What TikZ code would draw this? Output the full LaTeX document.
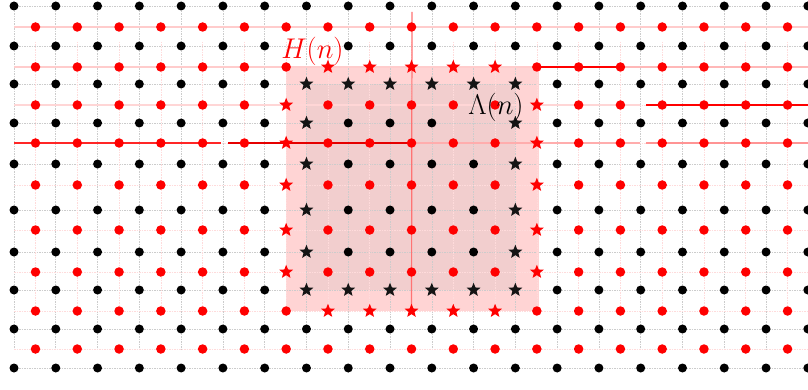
\RequirePackage{fix-cm}
\documentclass[tikz,border=0pt]{standalone}
\usetikzlibrary{shapes.geometric}
\definecolor{innerpink}{RGB}{242,206,206}
\definecolor{outerpink}{RGB}{255,212,212}
\begin{document}
\begin{tikzpicture}[x=1pt,y=-1pt,
  bdot/.style={circle,fill=black,inner sep=0pt,minimum size=9pt},
  rdot/.style={circle,fill=red,inner sep=0pt,minimum size=9.5pt},
  bstar/.style={star,star points=5,star point ratio=2.3,fill=black!92,inner sep=0pt,minimum size=14.5pt},
  rstar/.style={star,star points=5,star point ratio=2.3,fill=red,inner sep=0pt,minimum size=14.5pt},
  ggrid/.style={gray!40,line width=0.6pt,dash pattern=on 1.5pt off 1pt},
  pgrid/.style={red!14,line width=0.6pt,dash pattern=on 1.5pt off 1pt},
  sline/.style={line width=1.2pt},
  lab/.style={inner sep=0pt,font=\fontsize{28.5}{32}\selectfont}]
\useasboundingbox (0,0) rectangle (808,390);
\fill[white] (0,0) rectangle (808,390);

% lattice coordinates
\foreach \y [count=\jj from 0] in {6,46,84,123,164,210,252,290,329,368}{
  \foreach \i in {0,...,19}{
    \pgfmathsetmacro\xx{14+41.78*\i}
    \coordinate (b-\i-\jj) at (\xx,\y);
  }
}
\foreach \y [count=\jj from 0] in {27,67,105,143,185,230,272,311,349}{
  \foreach \i in {0,...,18}{
    \pgfmathsetmacro\xx{35.5+41.78*\i}
    \coordinate (r-\i-\jj) at (\xx,\y);
  }
}

% shaded regions H(n) and Lambda(n)
\fill[outerpink] (r-6-1) rectangle ([xshift=2pt]r-12-7);
\fill[innerpink] (b-7-2) rectangle (b-12-7);

% grid lines
\foreach \jj in {0,...,9}{\draw[ggrid] (b-0-\jj) -- (b-19-\jj);}
\foreach \i in {0,...,19}{\draw[ggrid] (b-\i-0) -- ([yshift=17pt]b-\i-9);}
\foreach \jj in {0,...,8}{\draw[pgrid] ([xshift=-21.5pt]r-0-\jj) -- ([xshift=21pt]r-18-\jj);}
\foreach \i in {0,...,18}{\draw[pgrid] ([yshift=-15pt]r-\i-0) -- ([yshift=37pt]r-\i-8);}

% free ends of the solid lines
\coordinate (a0) at (14,27);   \coordinate (a1) at (808,27);
\coordinate (c0) at (14,67);   \coordinate (c1) at (808,67);
\coordinate (d0) at (14,105);  \coordinate (d1) at (640,105);
\coordinate (d2) at (646,105); \coordinate (d3) at (808,105);
\coordinate (e0) at (14,143);  \coordinate (e1) at (221,143);
\coordinate (e2) at (228,143); \coordinate (e3) at (640,143);
\coordinate (e4) at (646,143); \coordinate (e5) at (808,143);
\coordinate (v0) at (412,12);

% solid lines
\draw[sline,red!20] (a0) -- (a1);
\draw[sline,red!20] (c0) -- (r-12-1);
\draw[sline,red] (r-12-1) -- (r-14-1);
\draw[sline,red!28] (r-14-1) -- (c1);
\draw[sline,red!16] (d0) -- (d1);
\draw[sline,red] (d2) -- (d3);
\draw[sline,red!85] (e0) -- (e1);
\draw[sline,red!90!black] (e2) -- (r-9-3);
\draw[sline,red!32] (r-9-3) -- (e3);
\draw[sline,red!42] (e4) -- (e5);
\draw[line width=1.2pt,red!55] (v0) -- (r-9-7);

% black points
\foreach \jj in {0,...,9}{
  \foreach \i in {0,...,19}{
    \pgfmathtruncatemacro\inside{(\i>=7)&&(\i<=12)&&(\jj>=2)&&(\jj<=7)}
    \pgfmathtruncatemacro\border{(\i==7)||(\i==12)||(\jj==2)||(\jj==7)}
    \pgfmathtruncatemacro\hidden{((\i==7)&&(\jj==1))||((\i==11)&&(\jj==3))}
    \ifnum\hidden=0
    \ifnum\inside=1
      \ifnum\border=1
        \node[bstar] (bp-\i-\jj) at (b-\i-\jj) {};
      \else
        \node[bdot] (bp-\i-\jj) at (b-\i-\jj) {};
      \fi
    \else
      \node[bdot] (bp-\i-\jj) at (b-\i-\jj) {};
    \fi
    \fi
  }
}
% red points
\foreach \jj in {0,...,8}{
  \foreach \i in {0,...,18}{
    \pgfmathtruncatemacro\inside{(\i>=6)&&(\i<=12)&&(\jj>=1)&&(\jj<=7)}
    \pgfmathtruncatemacro\vside{(\i==6)||(\i==12)}
    \pgfmathtruncatemacro\hside{(\jj==1)||(\jj==7)}
    \pgfmathtruncatemacro\edge{(\vside+\hside)==1}
    \ifnum\inside=1
      \ifnum\edge=1
        \node[rstar] (rp-\i-\jj) at (r-\i-\jj) {};
      \else
        \node[rdot] (rp-\i-\jj) at (r-\i-\jj) {};
      \fi
    \else
      \node[rdot] (rp-\i-\jj) at (r-\i-\jj) {};
    \fi
  }
}

% labels
\node[lab,text=red] (hlab) at (312.5,51.5) {$H(n)$};
\node[lab,text=black] (llab) at (496,107.5) {$\Lambda(n)$};
\end{tikzpicture}
\end{document}
